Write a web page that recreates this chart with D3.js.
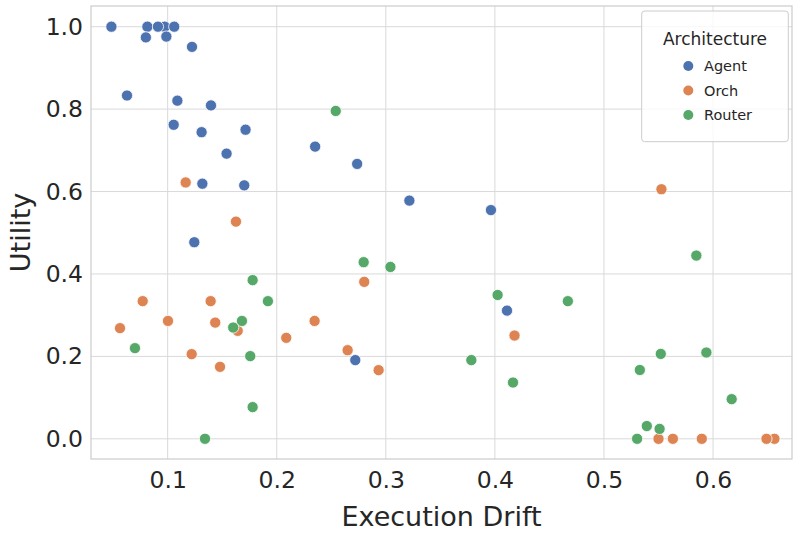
<!DOCTYPE html>
<html>
<head>
<meta charset="utf-8">
<script src="https://cdn.jsdelivr.net/npm/d3@7"></script>
<style>
  body { margin: 0; background: #fff; }
  svg { font-family: "DejaVu Sans", sans-serif; }
</style>
</head>
<body>
<div id="chart"></div>
<script>
// values
const agentX = [0.0973, 0.0484, 0.0814, 0.0911, 0.106, 0.080, 0.0988, 0.1223, 0.0627, 0.1089, 0.1397, 0.1055, 0.1311, 0.1714, 0.154, 0.2352, 0.2737, 0.1318, 0.1702, 0.1244, 0.3216, 0.3964, 0.4111, 0.272];
const agentY = [1.0, 1.0, 1.0, 1.0, 1.0, 0.974, 0.976, 0.951, 0.833, 0.8205, 0.809, 0.762, 0.744, 0.750, 0.692, 0.709, 0.667, 0.619, 0.615, 0.477, 0.578, 0.555, 0.311, 0.191];

const orchX = [0.1165, 0.1626, 0.5527, 0.418, 0.2802, 0.0771, 0.1394, 0.1003, 0.1436, 0.1642, 0.0563, 0.2347, 0.2087, 0.122, 0.265, 0.2934, 0.148, 0.550, 0.5632, 0.5897, 0.6563, 0.649];
const orchY = [0.622, 0.527, 0.6056, 0.2506, 0.3808, 0.334, 0.334, 0.286, 0.282, 0.262, 0.2685, 0.286, 0.245, 0.2054, 0.215, 0.1666, 0.1746, 0, 0, 0, 0, 0];

const routerX = [0.2541, 0.3042, 0.4025, 0.4669, 0.5847, 0.3784, 0.4166, 0.5521, 0.5939, 0.5329, 0.6171, 0.5393, 0.551, 0.5304, 0.2797, 0.1779, 0.1919, 0.1681, 0.1601, 0.070, 0.1757, 0.1779, 0.1342];
const routerY = [0.7955, 0.417, 0.349, 0.334, 0.4446, 0.191, 0.1366, 0.206, 0.2094, 0.167, 0.0962, 0.031, 0.024, 0, 0.4286, 0.385, 0.334, 0.286, 0.270, 0.220, 0.2006, 0.0769, 0];

const categories = ["Agent", "Orch", "Router"];
const xTicks = [0.1, 0.2, 0.3, 0.4, 0.5, 0.6];
const yTicks = [0.0, 0.2, 0.4, 0.6, 0.8, 1.0];

const W = 800, H = 536;
const margin = { top: 6, right: 8, bottom: 77, left: 91 };
const width = W - margin.left - margin.right;
const height = H - margin.top - margin.bottom;

const color = d3.scaleOrdinal().domain(categories).range(["#4c72b0", "#dd8452", "#55a868"]);

const x = d3.scaleLinear().domain([0.0297, 0.6724]).range([0, width]);
const y = d3.scaleLinear().domain([-0.049, 1.0502]).range([height, 0]);

const svg = d3.select("#chart").append("svg").attr("width", W).attr("height", H)
  .append("g").attr("transform", `translate(${margin.left},${margin.top})`);

// grid
svg.append("g").selectAll("line").data(xTicks).join("line")
  .attr("x1", d => x(d)).attr("x2", d => x(d)).attr("y1", 0).attr("y2", height)
  .attr("stroke", "#d9d9d9").attr("stroke-width", 1);
svg.append("g").selectAll("line").data(yTicks).join("line")
  .attr("y1", d => y(d)).attr("y2", d => y(d)).attr("x1", 0).attr("x2", width)
  .attr("stroke", "#d9d9d9").attr("stroke-width", 1);

// axes
const xAxis = svg.append("g").attr("transform", `translate(0,${height})`)
  .call(d3.axisBottom(x).tickValues(xTicks).tickFormat(d3.format(".1f")).tickSize(0).tickPadding(12));
const yAxis = svg.append("g")
  .call(d3.axisLeft(y).tickValues(yTicks).tickFormat(d3.format(".1f")).tickSize(0).tickPadding(8));
[xAxis, yAxis].forEach(a => {
  a.select(".domain").remove();
  a.selectAll("text").attr("font-size", 23.5).attr("fill", "#262626").attr("font-family", "DejaVu Sans");
});

// frame
svg.append("rect").attr("x", 0).attr("y", 0).attr("width", width).attr("height", height)
  .attr("fill", "none").attr("stroke", "#cccccc").attr("stroke-width", 1.2);

// points: orchestrator first, then agent, then router
const pts = [];
orchX.forEach((v, i) => pts.push({ x: v, y: orchY[i], c: "Orch" }));
agentX.forEach((v, i) => pts.push({ x: v, y: agentY[i], c: "Agent" }));
routerX.forEach((v, i) => pts.push({ x: v, y: routerY[i], c: "Router" }));

svg.append("g").selectAll("circle").data(pts).join("circle")
  .attr("cx", d => x(d.x)).attr("cy", d => y(d.y)).attr("r", 5.6)
  .attr("fill", d => color(d.c)).attr("stroke", "#fff").attr("stroke-width", 0.8);

// axis labels
svg.append("text").attr("x", width / 2).attr("y", height + 67)
  .attr("text-anchor", "middle").attr("font-size", 27).attr("fill", "#262626")
  .text("Execution Drift");
svg.append("text").attr("transform", `translate(${30 - margin.left},${height / 2}) rotate(-90)`)
  .attr("text-anchor", "middle").attr("font-size", 27).attr("fill", "#262626")
  .text("Utility");

// legend
const lg = svg.append("g").attr("transform", `translate(${641.7 - margin.left},${11 - margin.top})`);
lg.append("rect").attr("width", 146.6).attr("height", 130.7).attr("rx", 3)
  .attr("fill", "#fff").attr("fill-opacity", 0.8).attr("stroke", "#cccccc");
lg.append("text").attr("x", 73.3).attr("y", 34).attr("text-anchor", "middle")
  .attr("font-size", 17).attr("fill", "#262626").text("Architecture");
categories.forEach((c, i) => {
  const cy = 55 + i * 24.5;
  lg.append("circle").attr("cx", 46.6).attr("cy", cy).attr("r", 5).attr("fill", color(c));
  lg.append("text").attr("x", 62.3).attr("y", cy + 5).attr("font-size", 14.5)
    .attr("fill", "#262626").text(c);
});
</script>
</body>
</html>
